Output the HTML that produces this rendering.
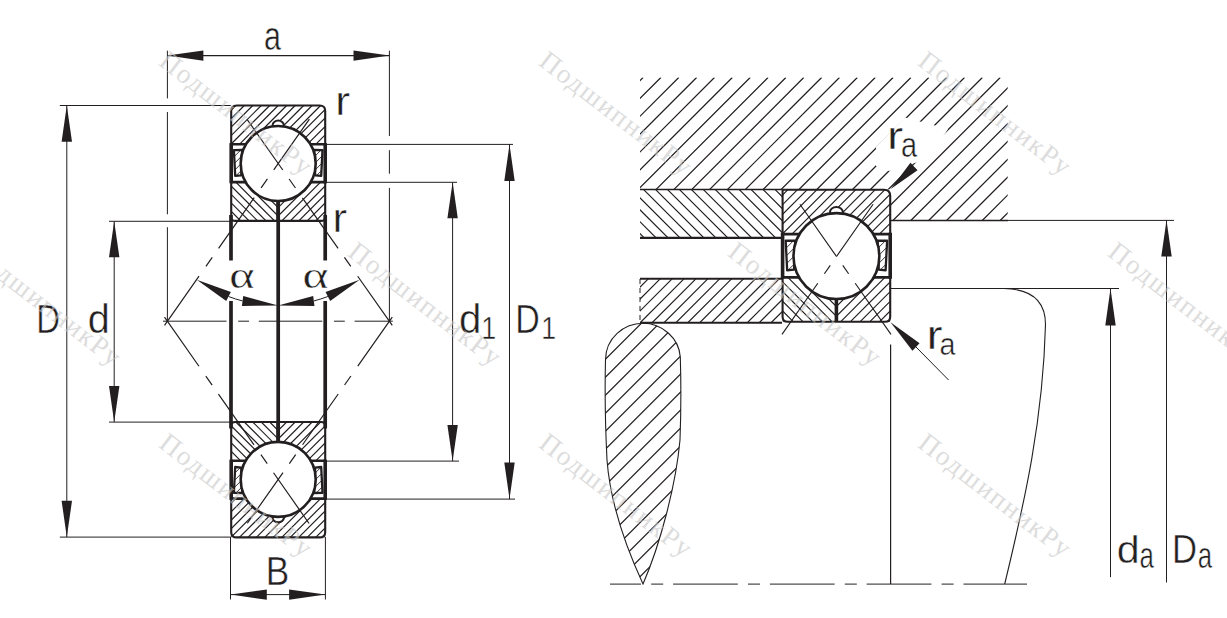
<!DOCTYPE html>
<html><head><meta charset="utf-8"><style>html,body{margin:0;padding:0;background:#fff;overflow:hidden}svg{display:block}</style></head>
<body><svg width="1227" height="618" viewBox="0 0 1227 618">
<defs><clipPath id="h1"><path d="M231.2 105.5H325.2V144.3H231.2Z"/></clipPath><clipPath id="h2"><path d="M231.2 182.1H278.2V220.9H231.2Z"/></clipPath><clipPath id="h3"><path d="M278.2 182.1H325.2V220.9H278.2Z"/></clipPath><clipPath id="h4"><path d="M322.5 150.1 L314.2 149.9 L315.2 175.3 L321.2 175.9Z"/></clipPath><clipPath id="h5"><path d="M233.9 150.1 L242.2 149.9 L241.2 175.3 L235.2 175.9Z"/></clipPath><clipPath id="h6"><path d="M231.2 498.6H325.2V537.4H231.2Z"/></clipPath><clipPath id="h7"><path d="M231.2 422H278.2V460.8H231.2Z"/></clipPath><clipPath id="h8"><path d="M278.2 422H325.2V460.8H278.2Z"/></clipPath><clipPath id="h9"><path d="M322.5 492.8 L314.2 493 L315.2 467.6 L321.2 467Z"/></clipPath><clipPath id="h10"><path d="M233.9 492.8 L242.2 493 L241.2 467.6 L235.2 467Z"/></clipPath><clipPath id="h11"><path d="M640 77.5H1007.7V220.5H890.6V189.6H640Z"/></clipPath><clipPath id="h12"><path d="M640 189.6H782V237.9H640Z"/></clipPath><clipPath id="h13"><path d="M640 278.7H782V322.7H640Z"/></clipPath><clipPath id="h14"><path d="M643 323.2C624 323.2 605.5 338 605.5 360C604.5 400 606 440 607 460C610 500 625 545 643 584C660 545 676 485 680 440C681.5 400 681 380 680.3 357C679 338 662 323.2 643 323.2Z"/></clipPath><clipPath id="h15"><path d="M782.59 189.69H890.21V234.12H782.59Z"/></clipPath><clipPath id="h16"><path d="M782.59 277.4H836.4V321.82H782.59Z"/></clipPath><clipPath id="h17"><path d="M836.4 277.4H890.21V321.82H836.4Z"/></clipPath><clipPath id="h18"><path d="M887.12 240.76 L877.62 240.53 L878.76 269.61 L885.63 270.3Z"/></clipPath><clipPath id="h19"><path d="M785.68 240.76 L795.18 240.53 L794.03 269.61 L787.16 270.3Z"/></clipPath></defs>
<rect width="1227" height="618" fill="#fff"/>
<line x1="231" y1="215" x2="231" y2="260.5" stroke="#231f20" stroke-width="3.7" stroke-linecap="butt"/>
<line x1="231" y1="301" x2="231" y2="428.5" stroke="#231f20" stroke-width="3.7" stroke-linecap="butt"/>
<line x1="325.2" y1="215" x2="325.2" y2="260.5" stroke="#231f20" stroke-width="3.7" stroke-linecap="butt"/>
<line x1="325.2" y1="301" x2="325.2" y2="428.5" stroke="#231f20" stroke-width="3.7" stroke-linecap="butt"/>
<line x1="278.2" y1="200" x2="278.2" y2="442" stroke="#231f20" stroke-width="3.7" stroke-linecap="butt"/>
<path d="M180.04 144.3L218.84 105.5M188.52 144.3L227.32 105.5M197 144.3L235.8 105.5M205.48 144.3L244.28 105.5M213.96 144.3L252.76 105.5M222.44 144.3L261.24 105.5M230.92 144.3L269.72 105.5M239.4 144.3L278.2 105.5M247.88 144.3L286.68 105.5M256.36 144.3L295.16 105.5M264.84 144.3L303.64 105.5M273.32 144.3L312.12 105.5M281.8 144.3L320.6 105.5M290.28 144.3L329.08 105.5M298.76 144.3L337.56 105.5M307.24 144.3L346.04 105.5M315.72 144.3L354.52 105.5M324.2 144.3L363 105.5M332.68 144.3L371.48 105.5M341.16 144.3L379.96 105.5" stroke="#231f20" stroke-width="1.2" fill="none" clip-path="url(#h1)"/>
<path d="M176.44 182.1L215.24 220.9M184.92 182.1L223.72 220.9M193.4 182.1L232.2 220.9M201.88 182.1L240.68 220.9M210.36 182.1L249.16 220.9M218.84 182.1L257.64 220.9M227.32 182.1L266.12 220.9M235.8 182.1L274.6 220.9M244.28 182.1L283.08 220.9M252.76 182.1L291.56 220.9M261.24 182.1L300.04 220.9M269.72 182.1L308.52 220.9M278.2 182.1L317 220.9M286.68 182.1L325.48 220.9" stroke="#231f20" stroke-width="1.2" fill="none" clip-path="url(#h2)"/>
<path d="M230.92 220.9L269.72 182.1M239.4 220.9L278.2 182.1M247.88 220.9L286.68 182.1M256.36 220.9L295.16 182.1M264.84 220.9L303.64 182.1M273.32 220.9L312.12 182.1M281.8 220.9L320.6 182.1M290.28 220.9L329.08 182.1M298.76 220.9L337.56 182.1M307.24 220.9L346.04 182.1M315.72 220.9L354.52 182.1M324.2 220.9L363 182.1M332.68 220.9L371.48 182.1M341.16 220.9L379.96 182.1" stroke="#231f20" stroke-width="1.2" fill="none" clip-path="url(#h3)"/>
<line x1="231.2" y1="144.3" x2="325.2" y2="144.3" stroke="#231f20" stroke-width="2.6" stroke-linecap="butt"/>
<line x1="231.2" y1="182.1" x2="325.2" y2="182.1" stroke="#231f20" stroke-width="2.6" stroke-linecap="butt"/>
<path d="M322.5 150.1 L314.2 149.9 L315.2 175.3 L321.2 175.9Z" fill="#fff" stroke="#231f20" stroke-width="2.3" stroke-linejoin="round"/>
<path d="M295.2 175.9L321.2 149.9M302.2 175.9L328.2 149.9M309.2 175.9L335.2 149.9M316.2 175.9L342.2 149.9" stroke="#231f20" stroke-width="0.9" clip-path="url(#h4)"/>
<path d="M233.9 150.1 L242.2 149.9 L241.2 175.3 L235.2 175.9Z" fill="#fff" stroke="#231f20" stroke-width="2.3" stroke-linejoin="round"/>
<path d="M214.9 175.9L240.9 149.9M221.9 175.9L247.9 149.9M228.9 175.9L254.9 149.9M235.9 175.9L261.9 149.9" stroke="#231f20" stroke-width="0.9" clip-path="url(#h5)"/>
<ellipse cx="278.2" cy="125.2" rx="5.6" ry="4.6" fill="#fff" stroke="#231f20" stroke-width="2.0"/>
<circle cx="278.2" cy="163.5" r="37.5" fill="#fff" stroke="#231f20" stroke-width="2.6"/>
<line x1="278.2" y1="201" x2="278.2" y2="220.9" stroke="#231f20" stroke-width="3.6" stroke-linecap="butt"/>
<path d="M235.2 220.9Q231.2 220.9 231.2 216.9V111Q231.2 105.5 236.7 105.5H319.7Q325.2 105.5 325.2 111V216.9Q325.2 220.9 321.2 220.9Z" fill="none" stroke="#231f20" stroke-width="2.1"/>
<line x1="231.2" y1="143.1" x2="231.2" y2="183.3" stroke="#231f20" stroke-width="3.6" stroke-linecap="butt"/>
<line x1="325.2" y1="143.1" x2="325.2" y2="183.3" stroke="#231f20" stroke-width="3.6" stroke-linecap="butt"/>
<path d="M180.04 537.4L218.84 498.6M188.52 537.4L227.32 498.6M197 537.4L235.8 498.6M205.48 537.4L244.28 498.6M213.96 537.4L252.76 498.6M222.44 537.4L261.24 498.6M230.92 537.4L269.72 498.6M239.4 537.4L278.2 498.6M247.88 537.4L286.68 498.6M256.36 537.4L295.16 498.6M264.84 537.4L303.64 498.6M273.32 537.4L312.12 498.6M281.8 537.4L320.6 498.6M290.28 537.4L329.08 498.6M298.76 537.4L337.56 498.6M307.24 537.4L346.04 498.6M315.72 537.4L354.52 498.6M324.2 537.4L363 498.6M332.68 537.4L371.48 498.6M341.16 537.4L379.96 498.6" stroke="#231f20" stroke-width="1.2" fill="none" clip-path="url(#h6)"/>
<path d="M176.44 422L215.24 460.8M184.92 422L223.72 460.8M193.4 422L232.2 460.8M201.88 422L240.68 460.8M210.36 422L249.16 460.8M218.84 422L257.64 460.8M227.32 422L266.12 460.8M235.8 422L274.6 460.8M244.28 422L283.08 460.8M252.76 422L291.56 460.8M261.24 422L300.04 460.8M269.72 422L308.52 460.8M278.2 422L317 460.8M286.68 422L325.48 460.8" stroke="#231f20" stroke-width="1.2" fill="none" clip-path="url(#h7)"/>
<path d="M230.92 460.8L269.72 422M239.4 460.8L278.2 422M247.88 460.8L286.68 422M256.36 460.8L295.16 422M264.84 460.8L303.64 422M273.32 460.8L312.12 422M281.8 460.8L320.6 422M290.28 460.8L329.08 422M298.76 460.8L337.56 422M307.24 460.8L346.04 422M315.72 460.8L354.52 422M324.2 460.8L363 422M332.68 460.8L371.48 422M341.16 460.8L379.96 422" stroke="#231f20" stroke-width="1.2" fill="none" clip-path="url(#h8)"/>
<line x1="231.2" y1="498.6" x2="325.2" y2="498.6" stroke="#231f20" stroke-width="2.6" stroke-linecap="butt"/>
<line x1="231.2" y1="460.8" x2="325.2" y2="460.8" stroke="#231f20" stroke-width="2.6" stroke-linecap="butt"/>
<path d="M322.5 492.8 L314.2 493 L315.2 467.6 L321.2 467Z" fill="#fff" stroke="#231f20" stroke-width="2.3" stroke-linejoin="round"/>
<path d="M295.2 493L321.2 467M302.2 493L328.2 467M309.2 493L335.2 467M316.2 493L342.2 467" stroke="#231f20" stroke-width="0.9" clip-path="url(#h9)"/>
<path d="M233.9 492.8 L242.2 493 L241.2 467.6 L235.2 467Z" fill="#fff" stroke="#231f20" stroke-width="2.3" stroke-linejoin="round"/>
<path d="M214.9 493L240.9 467M221.9 493L247.9 467M228.9 493L254.9 467M235.9 493L261.9 467" stroke="#231f20" stroke-width="0.9" clip-path="url(#h10)"/>
<ellipse cx="278.2" cy="517.7" rx="5.6" ry="4.6" fill="#fff" stroke="#231f20" stroke-width="2.0"/>
<circle cx="278.2" cy="479.4" r="37.5" fill="#fff" stroke="#231f20" stroke-width="2.6"/>
<line x1="278.2" y1="441.9" x2="278.2" y2="422" stroke="#231f20" stroke-width="3.6" stroke-linecap="butt"/>
<path d="M235.2 422Q231.2 422 231.2 426V531.9Q231.2 537.4 236.7 537.4H319.7Q325.2 537.4 325.2 531.9V426Q325.2 422 321.2 422Z" fill="none" stroke="#231f20" stroke-width="2.1"/>
<line x1="231.2" y1="499.8" x2="231.2" y2="459.6" stroke="#231f20" stroke-width="3.6" stroke-linecap="butt"/>
<line x1="325.2" y1="499.8" x2="325.2" y2="459.6" stroke="#231f20" stroke-width="3.6" stroke-linecap="butt"/>
<line x1="163" y1="321.2" x2="392.8" y2="321.2" stroke="#231f20" stroke-width="1.0" stroke-linecap="butt" stroke-dasharray="63.5 11.7 10.8 9.8" stroke-dashoffset="0"/>
<line x1="164.53" y1="325.29" x2="310.89" y2="116.97" stroke="#231f20" stroke-width="1.2" stroke-linecap="butt" stroke-dasharray="62 12 11 11" stroke-dashoffset="2"/>
<line x1="164.53" y1="317.1" x2="310.59" y2="525.64" stroke="#231f20" stroke-width="1.2" stroke-linecap="butt" stroke-dasharray="62 12 11 11" stroke-dashoffset="2"/>
<line x1="392.28" y1="325.29" x2="245.56" y2="117.21" stroke="#231f20" stroke-width="1.2" stroke-linecap="butt" stroke-dasharray="62 12 11 11" stroke-dashoffset="2"/>
<line x1="392.28" y1="317.11" x2="245.87" y2="525.4" stroke="#231f20" stroke-width="1.2" stroke-linecap="butt" stroke-dasharray="62 12 11 11" stroke-dashoffset="2"/>
<polygon points="196.75,279.82 230.86,292.1 226.2,300.96" fill="#231f20"/>
<polygon points="278.2,305.5 241.95,305.92 243.22,296" fill="#231f20"/>
<path d="M228.53 296.53A142.0 142.0 0 0 0 242.58 300.96" fill="none" stroke="#231f20" stroke-width="1"/>
<polygon points="359.65,279.82 330.2,300.96 325.54,292.1" fill="#231f20"/>
<polygon points="278.2,305.5 313.18,296 314.45,305.92" fill="#231f20"/>
<path d="M327.87 296.53A142.0 142.0 0 0 1 313.82 300.96" fill="none" stroke="#231f20" stroke-width="1"/>
<line x1="167.4" y1="55.6" x2="389.5" y2="55.6" stroke="#231f20" stroke-width="1.1" stroke-linecap="butt"/>
<polygon points="167.4,55.6 203.4,50.4 203.4,60.8" fill="#231f20"/>
<polygon points="389.5,55.6 353.5,60.8 353.5,50.4" fill="#231f20"/>
<line x1="167.4" y1="50.7" x2="167.4" y2="98.4" stroke="#231f20" stroke-width="1.0" stroke-linecap="butt"/>
<line x1="167.4" y1="112" x2="167.4" y2="214.3" stroke="#231f20" stroke-width="1.0" stroke-linecap="butt"/>
<line x1="167.4" y1="227.2" x2="167.4" y2="321.2" stroke="#231f20" stroke-width="1.0" stroke-linecap="butt"/>
<line x1="389.4" y1="50.7" x2="389.4" y2="136" stroke="#231f20" stroke-width="1.0" stroke-linecap="butt"/>
<line x1="389.4" y1="150.2" x2="389.4" y2="173.7" stroke="#231f20" stroke-width="1.0" stroke-linecap="butt"/>
<line x1="389.4" y1="187.8" x2="389.4" y2="321.2" stroke="#231f20" stroke-width="1.0" stroke-linecap="butt"/>
<line x1="59.8" y1="105.5" x2="231" y2="105.5" stroke="#231f20" stroke-width="1.0" stroke-linecap="butt"/>
<line x1="59.8" y1="537.1" x2="231" y2="537.1" stroke="#231f20" stroke-width="1.0" stroke-linecap="butt"/>
<line x1="66.8" y1="105.5" x2="66.8" y2="537.1" stroke="#231f20" stroke-width="1.0" stroke-linecap="butt"/>
<polygon points="66.8,105.5 72,141.8 61.6,141.8" fill="#231f20"/>
<polygon points="66.8,537.1 61.6,500.8 72,500.8" fill="#231f20"/>
<line x1="109" y1="221.3" x2="231" y2="221.3" stroke="#231f20" stroke-width="1.0" stroke-linecap="butt"/>
<line x1="109" y1="422.1" x2="231" y2="422.1" stroke="#231f20" stroke-width="1.0" stroke-linecap="butt"/>
<line x1="114.2" y1="221.3" x2="114.2" y2="422.1" stroke="#231f20" stroke-width="1.0" stroke-linecap="butt"/>
<polygon points="114.2,221.3 119.4,257.3 109,257.3" fill="#231f20"/>
<polygon points="114.2,422.1 109,386.1 119.4,386.1" fill="#231f20"/>
<line x1="325" y1="182.3" x2="457" y2="182.3" stroke="#231f20" stroke-width="1.0" stroke-linecap="butt"/>
<line x1="325" y1="461.1" x2="459" y2="461.1" stroke="#231f20" stroke-width="1.0" stroke-linecap="butt"/>
<line x1="452.6" y1="182.3" x2="452.6" y2="461.1" stroke="#231f20" stroke-width="1.0" stroke-linecap="butt"/>
<polygon points="452.6,182.3 457.8,218.3 447.4,218.3" fill="#231f20"/>
<polygon points="452.6,461.1 447.4,425.1 457.8,425.1" fill="#231f20"/>
<line x1="325" y1="144.4" x2="513" y2="144.4" stroke="#231f20" stroke-width="1.0" stroke-linecap="butt"/>
<line x1="325" y1="499.1" x2="515" y2="499.1" stroke="#231f20" stroke-width="1.0" stroke-linecap="butt"/>
<line x1="509.5" y1="144.4" x2="509.5" y2="499.1" stroke="#231f20" stroke-width="1.0" stroke-linecap="butt"/>
<polygon points="509.5,144.4 514.7,181 504.3,181" fill="#231f20"/>
<polygon points="509.5,499.1 504.3,462.5 514.7,462.5" fill="#231f20"/>
<line x1="230.5" y1="537" x2="230.5" y2="599.5" stroke="#231f20" stroke-width="1.0" stroke-linecap="butt"/>
<line x1="325.4" y1="537" x2="325.4" y2="599.5" stroke="#231f20" stroke-width="1.0" stroke-linecap="butt"/>
<line x1="230.5" y1="594.6" x2="325.4" y2="594.6" stroke="#231f20" stroke-width="1.0" stroke-linecap="butt"/>
<polygon points="230.5,594.6 266.8,589.4 266.8,599.8" fill="#231f20"/>
<polygon points="325.4,594.6 289.1,599.8 289.1,589.4" fill="#231f20"/>
<text transform="translate(264.06 49.51) scale(0.3048 0.4136)" font-family="Liberation Sans" font-size="100" fill="#231f20" stroke="#fff" stroke-width="1.25">a</text>
<text transform="translate(335.25 115.22) scale(0.4460 0.4157)" font-family="Liberation Sans" font-size="100" fill="#231f20" stroke="#fff" stroke-width="1.04">r</text>
<text transform="translate(332.61 232.22) scale(0.4380 0.3991)" font-family="Liberation Sans" font-size="100" fill="#231f20" stroke="#fff" stroke-width="1.08">r</text>
<text transform="translate(36.14 333.12) scale(0.3297 0.4007)" font-family="Liberation Sans" font-size="100" fill="#231f20" stroke="#fff" stroke-width="1.23">D</text>
<text transform="translate(87.79 333.23) scale(0.3967 0.3980)" font-family="Liberation Sans" font-size="100" fill="#231f20" stroke="#fff" stroke-width="1.13">d</text>
<text transform="translate(229.15 287.86) scale(0.4815 0.3698)" font-family="Liberation Serif" font-size="100" fill="#231f20" stroke="#fff" stroke-width="1.06">α</text>
<text transform="translate(302.61 287.86) scale(0.4924 0.3698)" font-family="Liberation Serif" font-size="100" fill="#231f20" stroke="#fff" stroke-width="1.04">α</text>
<text transform="translate(459.07 333.22) scale(0.4011 0.4020)" font-family="Liberation Sans" font-size="100" fill="#231f20" stroke="#fff" stroke-width="1.12">d</text>
<text transform="translate(481.33 339.12) scale(0.2686 0.3094)" font-family="Liberation Sans" font-size="100" fill="#231f20" stroke="#fff" stroke-width="1.56">1</text>
<text transform="translate(515.26 333.23) scale(0.3398 0.4123)" font-family="Liberation Sans" font-size="100" fill="#231f20" stroke="#fff" stroke-width="1.20">D</text>
<text transform="translate(541.34 339.12) scale(0.2663 0.3094)" font-family="Liberation Sans" font-size="100" fill="#231f20" stroke="#fff" stroke-width="1.56">1</text>
<text transform="translate(265.66 585.02) scale(0.3519 0.4094)" font-family="Liberation Sans" font-size="100" fill="#231f20" stroke="#fff" stroke-width="1.18">B</text>
<path d="M464.32 220.5L607.32 77.5M482.18 220.5L625.18 77.5M500.04 220.5L643.04 77.5M517.9 220.5L660.9 77.5M535.76 220.5L678.76 77.5M553.62 220.5L696.62 77.5M571.48 220.5L714.48 77.5M589.34 220.5L732.34 77.5M607.2 220.5L750.2 77.5M625.06 220.5L768.06 77.5M642.92 220.5L785.92 77.5M660.78 220.5L803.78 77.5M678.64 220.5L821.64 77.5M696.5 220.5L839.5 77.5M714.36 220.5L857.36 77.5M732.22 220.5L875.22 77.5M750.08 220.5L893.08 77.5M767.94 220.5L910.94 77.5M785.8 220.5L928.8 77.5M803.66 220.5L946.66 77.5M821.52 220.5L964.52 77.5M839.38 220.5L982.38 77.5M857.24 220.5L1000.24 77.5M875.1 220.5L1018.1 77.5M892.96 220.5L1035.96 77.5M910.82 220.5L1053.82 77.5M928.68 220.5L1071.68 77.5M946.54 220.5L1089.54 77.5M964.4 220.5L1107.4 77.5M982.26 220.5L1125.26 77.5M1000.12 220.5L1143.12 77.5M1017.98 220.5L1160.98 77.5M1035.84 220.5L1178.84 77.5" stroke="#231f20" stroke-width="1.2" fill="none" clip-path="url(#h11)"/>
<polygon points="876,147 905,117.5 948,129 937,146 918,162 889,171 876,166" fill="#fff"/>
<path d="M572 189.6L620.3 237.9M583.95 189.6L632.25 237.9M595.9 189.6L644.2 237.9M607.85 189.6L656.15 237.9M619.8 189.6L668.1 237.9M631.75 189.6L680.05 237.9M643.7 189.6L692 237.9M655.65 189.6L703.95 237.9M667.6 189.6L715.9 237.9M679.55 189.6L727.85 237.9M691.5 189.6L739.8 237.9M703.45 189.6L751.75 237.9M715.4 189.6L763.7 237.9M727.35 189.6L775.65 237.9M739.3 189.6L787.6 237.9M751.25 189.6L799.55 237.9M763.2 189.6L811.5 237.9M775.15 189.6L823.45 237.9M787.1 189.6L835.4 237.9M799.05 189.6L847.35 237.9" stroke="#231f20" stroke-width="1.2" fill="none" clip-path="url(#h12)"/>
<line x1="640" y1="189.6" x2="782" y2="189.6" stroke="#231f20" stroke-width="1.5" stroke-linecap="butt"/>
<line x1="640" y1="237.9" x2="782" y2="237.9" stroke="#231f20" stroke-width="2.1" stroke-linecap="butt"/>
<path d="M580.7 322.7L624.7 278.7M592.6 322.7L636.6 278.7M604.5 322.7L648.5 278.7M616.4 322.7L660.4 278.7M628.3 322.7L672.3 278.7M640.2 322.7L684.2 278.7M652.1 322.7L696.1 278.7M664 322.7L708 278.7M675.9 322.7L719.9 278.7M687.8 322.7L731.8 278.7M699.7 322.7L743.7 278.7M711.6 322.7L755.6 278.7M723.5 322.7L767.5 278.7M735.4 322.7L779.4 278.7M747.3 322.7L791.3 278.7M759.2 322.7L803.2 278.7M771.1 322.7L815.1 278.7M783 322.7L827 278.7M794.9 322.7L838.9 278.7" stroke="#231f20" stroke-width="1.2" fill="none" clip-path="url(#h13)"/>
<line x1="640" y1="278.7" x2="782" y2="278.7" stroke="#231f20" stroke-width="2.1" stroke-linecap="butt"/>
<line x1="640" y1="322.7" x2="782" y2="322.7" stroke="#231f20" stroke-width="2.1" stroke-linecap="butt"/>
<line x1="640" y1="279" x2="640" y2="322.7" stroke="#231f20" stroke-width="1.0" stroke-linecap="butt" stroke-dasharray="5 4" stroke-dashoffset="0"/>
<path d="M302.7 590L572.7 320M320.7 590L590.7 320M338.7 590L608.7 320M356.7 590L626.7 320M374.7 590L644.7 320M392.7 590L662.7 320M410.7 590L680.7 320M428.7 590L698.7 320M446.7 590L716.7 320M464.7 590L734.7 320M482.7 590L752.7 320M500.7 590L770.7 320M518.7 590L788.7 320M536.7 590L806.7 320M554.7 590L824.7 320M572.7 590L842.7 320M590.7 590L860.7 320M608.7 590L878.7 320M626.7 590L896.7 320M644.7 590L914.7 320M662.7 590L932.7 320M680.7 590L950.7 320M698.7 590L968.7 320M716.7 590L986.7 320" stroke="#231f20" stroke-width="1.2" fill="none" clip-path="url(#h14)"/>
<path d="M643 323.2C624 323.2 605.5 338 605.5 360C604.5 400 606 440 607 460C610 500 625 545 643 584C660 545 676 485 680 440C681.5 400 681 380 680.3 357C679 338 662 323.2 643 323.2Z" fill="none" stroke="#231f20" stroke-width="1.1"/>
<path d="M724.01 234.12L768.43 189.69M733.72 234.12L778.14 189.69M743.43 234.12L787.85 189.69M753.14 234.12L797.56 189.69M762.85 234.12L807.27 189.69M772.55 234.12L816.98 189.69M782.26 234.12L826.69 189.69M791.97 234.12L836.4 189.69M801.68 234.12L846.11 189.69M811.39 234.12L855.82 189.69M821.1 234.12L865.53 189.69M830.81 234.12L875.24 189.69M840.52 234.12L884.95 189.69M850.23 234.12L894.66 189.69M859.94 234.12L904.37 189.69M869.65 234.12L914.08 189.69M879.36 234.12L923.79 189.69M889.07 234.12L933.5 189.69M898.78 234.12L943.21 189.69M908.49 234.12L952.92 189.69" stroke="#231f20" stroke-width="1.2" fill="none" clip-path="url(#h15)"/>
<path d="M719.88 277.4L764.31 321.82M729.59 277.4L774.02 321.82M739.3 277.4L783.73 321.82M749.01 277.4L793.44 321.82M758.72 277.4L803.15 321.82M768.43 277.4L812.86 321.82M778.14 277.4L822.57 321.82M787.85 277.4L832.28 321.82M797.56 277.4L841.99 321.82M807.27 277.4L851.7 321.82M816.98 277.4L861.41 321.82M826.69 277.4L871.12 321.82M836.4 277.4L880.83 321.82M846.11 277.4L890.54 321.82" stroke="#231f20" stroke-width="1.2" fill="none" clip-path="url(#h16)"/>
<path d="M782.26 321.82L826.69 277.4M791.97 321.82L836.4 277.4M801.68 321.82L846.11 277.4M811.39 321.82L855.82 277.4M821.1 321.82L865.53 277.4M830.81 321.82L875.24 277.4M840.52 321.82L884.95 277.4M850.23 321.82L894.66 277.4M859.94 321.82L904.37 277.4M869.65 321.82L914.08 277.4M879.36 321.82L923.79 277.4M889.07 321.82L933.5 277.4M898.78 321.82L943.21 277.4M908.49 321.82L952.92 277.4" stroke="#231f20" stroke-width="1.2" fill="none" clip-path="url(#h17)"/>
<line x1="782.59" y1="234.12" x2="890.21" y2="234.12" stroke="#231f20" stroke-width="2.6" stroke-linecap="butt"/>
<line x1="782.59" y1="277.4" x2="890.21" y2="277.4" stroke="#231f20" stroke-width="2.6" stroke-linecap="butt"/>
<path d="M887.12 240.76 L877.62 240.53 L878.76 269.61 L885.63 270.3Z" fill="#fff" stroke="#231f20" stroke-width="2.3" stroke-linejoin="round"/>
<path d="M855.87 270.3L885.64 240.53M863.88 270.3L893.65 240.53M871.9 270.3L901.67 240.53M879.91 270.3L909.68 240.53" stroke="#231f20" stroke-width="0.9" clip-path="url(#h18)"/>
<path d="M785.68 240.76 L795.18 240.53 L794.03 269.61 L787.16 270.3Z" fill="#fff" stroke="#231f20" stroke-width="2.3" stroke-linejoin="round"/>
<path d="M763.92 270.3L793.69 240.53M771.94 270.3L801.71 240.53M779.95 270.3L809.72 240.53M787.97 270.3L817.74 240.53" stroke="#231f20" stroke-width="0.9" clip-path="url(#h19)"/>
<ellipse cx="836.4" cy="212.25" rx="6.41" ry="5.27" fill="#fff" stroke="#231f20" stroke-width="2.0"/>
<circle cx="836.4" cy="256.1" r="42.94" fill="#fff" stroke="#231f20" stroke-width="2.6"/>
<line x1="836.4" y1="299.04" x2="836.4" y2="321.82" stroke="#231f20" stroke-width="3.6" stroke-linecap="butt"/>
<path d="M787.74 321.82Q782.59 321.82 782.59 316.67V190.26Q782.59 189.69 783.16 189.69H883.92Q890.21 189.69 890.21 195.99V316.67Q890.21 321.82 885.06 321.82Z" fill="none" stroke="#231f20" stroke-width="2.1"/>
<line x1="782.59" y1="232.74" x2="782.59" y2="278.77" stroke="#231f20" stroke-width="3.6" stroke-linecap="butt"/>
<line x1="890.21" y1="232.74" x2="890.21" y2="278.77" stroke="#231f20" stroke-width="3.6" stroke-linecap="butt"/>
<line x1="873.09" y1="204.24" x2="782.01" y2="334.32" stroke="#231f20" stroke-width="1.15" stroke-linecap="butt" stroke-dasharray="63.8 10.9 10.2 11.5 300" stroke-dashoffset="0"/>
<line x1="799.91" y1="204.24" x2="890.99" y2="334.32" stroke="#231f20" stroke-width="1.15" stroke-linecap="butt" stroke-dasharray="63.8 10.9 10.2 11.5 300" stroke-dashoffset="0"/>
<line x1="890.6" y1="288.5" x2="1119" y2="288.5" stroke="#231f20" stroke-width="1.0" stroke-linecap="butt"/>
<path d="M1004 288.5C1030 289 1045.5 300 1045.5 324.5C1043 420 1025 500 1004.7 584" fill="none" stroke="#231f20" stroke-width="1.1"/>
<line x1="890.6" y1="220.5" x2="1008" y2="220.5" stroke="#231f20" stroke-width="1.7" stroke-linecap="butt"/>
<line x1="1008" y1="220.4" x2="1174" y2="220.4" stroke="#231f20" stroke-width="1.0" stroke-linecap="butt"/>
<line x1="890.6" y1="344.5" x2="890.6" y2="584.1" stroke="#231f20" stroke-width="1.2" stroke-linecap="butt"/>
<line x1="610" y1="584.1" x2="1027" y2="584.1" stroke="#231f20" stroke-width="1.0" stroke-linecap="butt" stroke-dasharray="64.7 10.2 12 9.9" stroke-dashoffset="33.7"/>
<line x1="1110.5" y1="288.5" x2="1110.5" y2="577.2" stroke="#231f20" stroke-width="1.0" stroke-linecap="butt"/>
<polygon points="1110.5,288.5 1115.7,325.5 1105.3,325.5" fill="#231f20"/>
<line x1="1166.5" y1="220.2" x2="1166.5" y2="582.5" stroke="#231f20" stroke-width="1.0" stroke-linecap="butt"/>
<polygon points="1166.5,220.2 1171.7,256.4 1161.3,256.4" fill="#231f20"/>
<polygon points="890.7,189 910.46,162.83 917.54,170.17" fill="#231f20"/>
<polygon points="890.5,322.3 919.55,343.34 912.45,350.66" fill="#231f20"/>
<line x1="916" y1="347" x2="948.6" y2="380" stroke="#231f20" stroke-width="1.0" stroke-linecap="butt"/>
<text transform="translate(887.07 148.72) scale(0.4860 0.3972)" font-family="Liberation Sans" font-size="100" fill="#231f20" stroke="#fff" stroke-width="1.02">r</text>
<text transform="translate(901.02 156.87) scale(0.2894 0.3536)" font-family="Liberation Sans" font-size="100" fill="#231f20" stroke="#fff" stroke-width="1.40">a</text>
<text transform="translate(926.6 349.23) scale(0.4820 0.4046)" font-family="Liberation Sans" font-size="100" fill="#231f20" stroke="#fff" stroke-width="1.02">r</text>
<text transform="translate(939.52 355.2) scale(0.2875 0.3227)" font-family="Liberation Sans" font-size="100" fill="#231f20" stroke="#fff" stroke-width="1.47">a</text>
<text transform="translate(1116.63 563.13) scale(0.4122 0.3953)" font-family="Liberation Sans" font-size="100" fill="#231f20" stroke="#fff" stroke-width="1.11">d</text>
<text transform="translate(1139.44 568.16) scale(0.2587 0.3645)" font-family="Liberation Sans" font-size="100" fill="#231f20" stroke="#fff" stroke-width="1.44">a</text>
<text transform="translate(1172 563.23) scale(0.3466 0.4065)" font-family="Liberation Sans" font-size="100" fill="#231f20" stroke="#fff" stroke-width="1.20">D</text>
<text transform="translate(1197.64 568.16) scale(0.2587 0.3645)" font-family="Liberation Sans" font-size="100" fill="#231f20" stroke="#fff" stroke-width="1.44">a</text>
<g transform="translate(168.8 50.7) rotate(37.5) scale(0.272) translate(-3 65)"><text x="0" y="0" font-family="Liberation Serif" font-size="100" letter-spacing="6.1" fill="#c6c6c6" fill-opacity="0.62">ПодшипникРу</text></g>
<g transform="translate(548.8 50.7) rotate(37.5) scale(0.272) translate(-3 65)"><text x="0" y="0" font-family="Liberation Serif" font-size="100" letter-spacing="6.1" fill="#c6c6c6" fill-opacity="0.62">ПодшипникРу</text></g>
<g transform="translate(927.8 50.7) rotate(37.5) scale(0.272) translate(-3 65)"><text x="0" y="0" font-family="Liberation Serif" font-size="100" letter-spacing="6.1" fill="#c6c6c6" fill-opacity="0.62">ПодшипникРу</text></g>
<g transform="translate(-22.2 241.5) rotate(37.5) scale(0.272) translate(-3 65)"><text x="0" y="0" font-family="Liberation Serif" font-size="100" letter-spacing="6.1" fill="#c6c6c6" fill-opacity="0.62">ПодшипникРу</text></g>
<g transform="translate(357.8 241.5) rotate(37.5) scale(0.272) translate(-3 65)"><text x="0" y="0" font-family="Liberation Serif" font-size="100" letter-spacing="6.1" fill="#c6c6c6" fill-opacity="0.62">ПодшипникРу</text></g>
<g transform="translate(737.8 241.5) rotate(37.5) scale(0.272) translate(-3 65)"><text x="0" y="0" font-family="Liberation Serif" font-size="100" letter-spacing="6.1" fill="#c6c6c6" fill-opacity="0.62">ПодшипникРу</text></g>
<g transform="translate(1117.8 241.5) rotate(37.5) scale(0.272) translate(-3 65)"><text x="0" y="0" font-family="Liberation Serif" font-size="100" letter-spacing="6.1" fill="#c6c6c6" fill-opacity="0.62">ПодшипникРу</text></g>
<g transform="translate(168.8 432.8) rotate(37.5) scale(0.272) translate(-3 65)"><text x="0" y="0" font-family="Liberation Serif" font-size="100" letter-spacing="6.1" fill="#c6c6c6" fill-opacity="0.62">ПодшипникРу</text></g>
<g transform="translate(548.8 432.8) rotate(37.5) scale(0.272) translate(-3 65)"><text x="0" y="0" font-family="Liberation Serif" font-size="100" letter-spacing="6.1" fill="#c6c6c6" fill-opacity="0.62">ПодшипникРу</text></g>
<g transform="translate(927.8 432.8) rotate(37.5) scale(0.272) translate(-3 65)"><text x="0" y="0" font-family="Liberation Serif" font-size="100" letter-spacing="6.1" fill="#c6c6c6" fill-opacity="0.62">ПодшипникРу</text></g>
</svg></body></html>
